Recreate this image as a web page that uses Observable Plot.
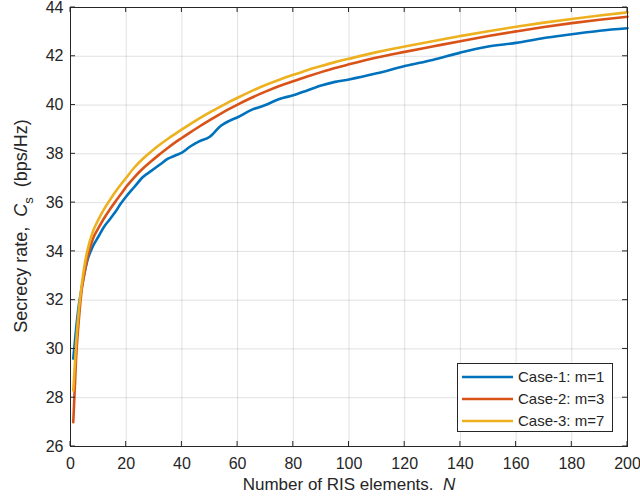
<!DOCTYPE html>
<html><head><meta charset="utf-8">
<script src="https://cdn.jsdelivr.net/npm/d3@7"></script>
<script src="https://cdn.jsdelivr.net/npm/@observablehq/plot@0.6"></script>
<style>body{margin:0;background:#fff} svg{display:block}</style>
</head><body><div id="chart"></div>
<script>
const N = [1,2,3,4,5,6,8,10,12,14,16,18,20,23,26,29,32,35,38,40,43,46,50,54,57,60,65,70,75,80,85,90,95,100,110,120,130,140,150,160,170,180,190,200];
const case1 = [29.6,30.8,31.8,32.5,33.1,33.6,34.2,34.6,35.0,35.3,35.6,35.95,36.25,36.65,37.05,37.3,37.55,37.8,37.95,38.05,38.3,38.5,38.7,39.15,39.35,39.5,39.8,40.0,40.25,40.4,40.6,40.8,40.95,41.05,41.3,41.6,41.85,42.15,42.4,42.55,42.75,42.9,43.05,43.15];
const case2 = [27.0,29.6,31.2,32.4,33.1,33.7,34.5,34.95,35.35,35.7,36.02,36.33,36.65,37.05,37.4,37.7,37.98,38.25,38.5,38.65,38.88,39.1,39.38,39.65,39.84,40.02,40.3,40.55,40.78,40.98,41.17,41.35,41.52,41.67,41.95,42.18,42.4,42.62,42.83,43.02,43.2,43.36,43.5,43.62];
const case3 = [28.3,30.2,31.6,32.6,33.4,34.0,34.8,35.3,35.72,36.08,36.42,36.73,37.02,37.45,37.8,38.1,38.37,38.62,38.85,39.0,39.22,39.43,39.7,39.95,40.13,40.3,40.57,40.82,41.04,41.24,41.43,41.6,41.76,41.9,42.17,42.4,42.62,42.83,43.03,43.21,43.38,43.53,43.67,43.8];
const seriesNames = ["Case-1: m=1","Case-2: m=3","Case-3: m=7"];
const seriesColors = ["#0072BD","#D95319","#EDB120"];
const xTicks = [0,20,40,60,80,100,120,140,160,180,200];
const yTicks = [26,28,30,32,34,36,38,40,42,44];

const allSeries = [case1, case2, case3];
const rows = [];
allSeries.forEach((vals, s) => vals.forEach((v, i) => rows.push({N: N[i], Cs: v, series: seriesNames[s]})));

const font = "'Liberation Sans', Arial, Helvetica, sans-serif";
const ink = "#262626";

const chart = Plot.plot({
  width: 640, height: 504,
  marginLeft: 70, marginRight: 13, marginTop: 7, marginBottom: 58,
  style: {fontFamily: font, fontSize: "16px", color: ink, background: "#fff"},
  x: {domain: [xTicks[0], xTicks[xTicks.length-1]], label: null},
  y: {domain: [yTicks[0], yTicks[yTicks.length-1]], label: null},
  color: {domain: seriesNames, range: seriesColors},
  marks: [
    Plot.gridX(xTicks, {stroke: "#000", strokeOpacity: 0.12}),
    Plot.gridY(yTicks, {stroke: "#000", strokeOpacity: 0.12}),
    Plot.line(rows, {x: "N", y: "Cs", z: "series", stroke: "series", strokeWidth: 2.6, curve: "monotone-x"}),
    Plot.axisX(xTicks, {tickSize: 0, tickPadding: 11, label: null}),
    Plot.axisY(yTicks, {tickSize: 0, tickPadding: 7, label: null}),
    Plot.frame({stroke: ink, strokeWidth: 1})
  ]
});
document.getElementById("chart").appendChild(chart);

const svg = d3.select(chart);
const xs = chart.scale("x"), ys = chart.scale("y");
const X0 = xs.apply(xTicks[0]), X1 = xs.apply(xTicks[xTicks.length-1]);
const Y0 = ys.apply(yTicks[0]), Y1 = ys.apply(yTicks[yTicks.length-1]);
const tl = 5;
const tg = svg.append("g").attr("stroke", ink).attr("stroke-width", 1);
xTicks.forEach(t => {
  const px = xs.apply(t);
  tg.append("line").attr("x1", px).attr("x2", px).attr("y1", Y0).attr("y2", Y0 - tl);
  tg.append("line").attr("x1", px).attr("x2", px).attr("y1", Y1).attr("y2", Y1 + tl);
});
yTicks.forEach(t => {
  const py = ys.apply(t);
  tg.append("line").attr("y1", py).attr("y2", py).attr("x1", X0).attr("x2", X0 + tl);
  tg.append("line").attr("y1", py).attr("y2", py).attr("x1", X1).attr("x2", X1 - tl);
});

// axis labels
const xl = svg.append("text").attr("x", 349).attr("y", 490)
  .attr("text-anchor", "middle").attr("fill", ink).attr("font-family", font).attr("font-size", 17);
xl.append("tspan").text("Number of RIS elements.\u00a0\u00a0");
xl.append("tspan").attr("font-style", "italic").text("N");

const yl = svg.append("text").attr("transform", `translate(27,226) rotate(-90)`)
  .attr("text-anchor", "middle").attr("fill", ink).attr("font-family", font).attr("font-size", 18);
yl.append("tspan").text("Secrecy rate,\u00a0\u00a0");
yl.append("tspan").attr("font-style", "italic").text("C");
yl.append("tspan").attr("font-size", 13).attr("dy", 6).text("s");
yl.append("tspan").attr("dy", -6).text("\u00a0\u00a0(bps/Hz)");

// legend
const lg = svg.append("g").attr("font-family", font).attr("font-size", 15).attr("text-anchor", "start");
lg.append("rect").attr("x", 457.5).attr("y", 363.5).attr("width", 155).attr("height", 68)
  .attr("fill", "#fff").attr("stroke", ink).attr("stroke-width", 1);
seriesNames.forEach((name, i) => {
  const yy = 377 + i * 22;
  lg.append("line").attr("x1", 462).attr("x2", 513).attr("y1", yy).attr("y2", yy)
    .attr("stroke", seriesColors[i]).attr("stroke-width", 2.6);
  lg.append("text").attr("x", 518).attr("y", yy).attr("dy", "0.35em").attr("fill", ink).text(name);
});
</script>
</body></html>
